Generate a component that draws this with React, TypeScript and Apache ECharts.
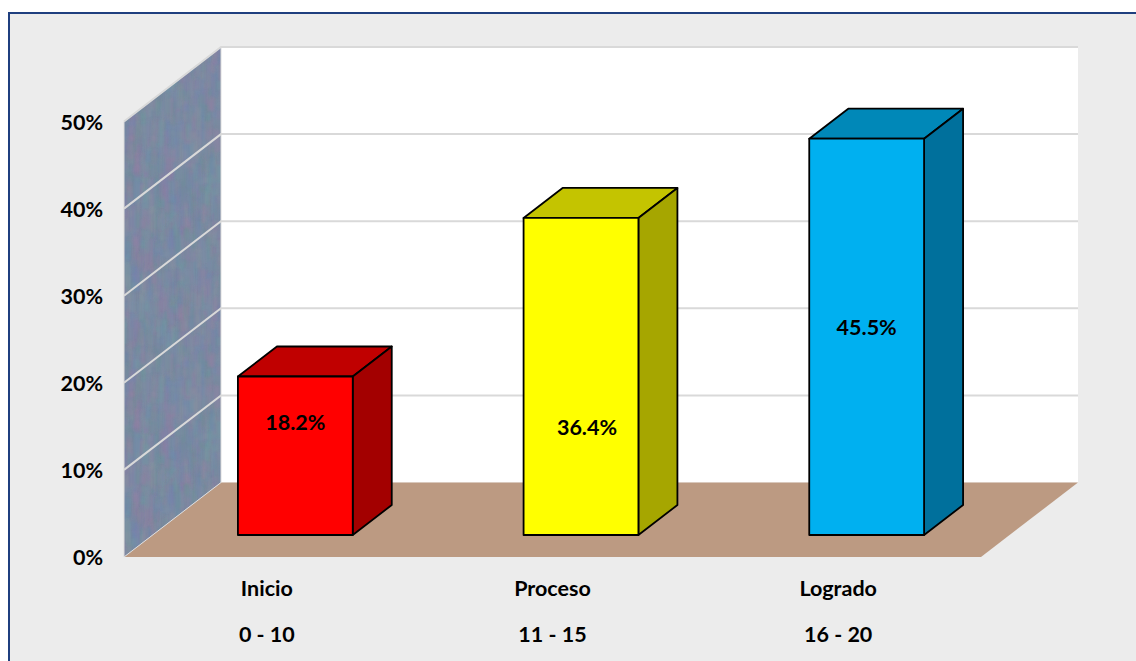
import React, { useEffect, useRef } from "react";
import * as echarts from "echarts";

const categories = ["Inicio", "Proceso", "Logrado"];
const scoreRanges = ["0 - 10", "11 - 15", "16 - 20"];
const percentages = [18.2, 36.4, 45.5];
const yTicks = [0, 10, 20, 30, 40, 50];

const FACE_COLORS = [
  { front: "#ff0000", top: "#c00000", side: "#a30000" },
  { front: "#ffff00", top: "#c4c400", side: "#a6a600" },
  { front: "#00b0f0", top: "#0088b8", side: "#00709c" },
];
// Label nudges from the centre of each bar's front face, in pixels.
const LABEL_NUDGE = [
  { dx: 0, dy: -34 },
  { dx: 6, dy: 51 },
  { dx: 0, dy: -10 },
];

const WALL_DX = 97;
const WALL_DY = -74.5;
const BAR_SHIFT_X = 28.5;
const BAR_SHIFT_Y = -22;
const BAR_DEPTH_X = 39;
const BAR_DEPTH_Y = -30;
const BAR_RATIO = 0.402;
const GRID_LINE = "#d9d9d9";
const FONT_FAMILY = 'Lato, "Noto Sans", sans-serif';
const FONT_SIZE = 21.5;
const FONT = `bold ${FONT_SIZE}px ${FONT_FAMILY}`;

// Mottled blue-grey fabric used on the side wall.
function makeWallTexture(): HTMLCanvasElement {
  const size = 256;
  const canvas = document.createElement("canvas");
  canvas.width = size;
  canvas.height = size;
  const ctx = canvas.getContext("2d")!;
  ctx.fillStyle = "#7b8ca4";
  ctx.fillRect(0, 0, size, size);
  let seed = 20117;
  const next = () => {
    seed = (seed * 1103515245 + 12345) & 0x7fffffff;
    return seed / 0x7fffffff;
  };
  const tints = ["#8f7fa6", "#6f9aa3", "#7086b0", "#8c94a0", "#6e8f98", "#9482a2"];
  ctx.filter = "blur(1.2px)";
  for (let i = 0; i < 2600; i++) {
    const x = next() * size;
    const y = next() * size;
    const w = 2 + next() * 5;
    const h = 6 + next() * 22;
    ctx.globalAlpha = 0.12 + next() * 0.26;
    ctx.fillStyle = tints[Math.floor(next() * tints.length)];
    for (const ox of [0, -size]) {
      for (const oy of [0, -size]) {
        ctx.fillRect(x + ox, y + oy, w, h);
      }
    }
  }
  return canvas;
}

export default function App() {
  const ref = useRef<HTMLDivElement>(null);

  useEffect(() => {
    const chart = echarts.init(ref.current!, undefined, { renderer: "svg" });
    const texture = makeWallTexture();

    const renderRoom = (params: any) => {
      const { x, y, width, height } = params.coordSys;
      const x0 = x;
      const x1 = x + width;
      const yTop = y;
      const yBase = y + height;
      const poly = (points: number[][], style: any) => ({ type: "polygon", shape: { points }, style });
      return {
        type: "group",
        children: [
          poly(
            [
              [x0 + WALL_DX, yTop + WALL_DY],
              [x1 + WALL_DX, yTop + WALL_DY],
              [x1 + WALL_DX, yBase + WALL_DY],
              [x0 + WALL_DX, yBase + WALL_DY],
            ],
            { fill: "#ffffff" },
          ),
          poly(
            [
              [x0, yBase],
              [x0 + WALL_DX, yBase + WALL_DY],
              [x1 + WALL_DX, yBase + WALL_DY],
              [x1, yBase],
            ],
            { fill: "#bc9a82" },
          ),
          poly(
            [
              [x0, yTop],
              [x0 + WALL_DX, yTop + WALL_DY],
              [x0 + WALL_DX, yBase + WALL_DY],
              [x0, yBase],
            ],
            {
              fill: { image: texture, repeat: "repeat", imageWidth: 256, imageHeight: 256 },
              stroke: "#dddddd",
              lineWidth: 1,
            },
          ),
        ],
      };
    };

    const renderGridLine = (params: any, api: any) => {
      const value = api.value(0);
      const { x, width } = params.coordSys;
      const y = api.coord([0, value])[1];
      if (value === 0) return { type: "group", children: [] };
      return {
        type: "polyline",
        shape: {
          points: [
            [x, y],
            [x + WALL_DX, y + WALL_DY],
            [x + width + WALL_DX, y + WALL_DY],
          ],
        },
        style: { stroke: GRID_LINE, lineWidth: 2, fill: "none" },
      };
    };

    const renderBar = (params: any, api: any) => {
      const index = api.value(0);
      const value = api.value(1);
      const [cx, yTop] = api.coord([index, value]);
      const [, yZero] = api.coord([index, 0]);
      const width = api.size([1, 0])[0] * BAR_RATIO;
      const l = cx + BAR_SHIFT_X - width / 2;
      const r = l + width;
      const t = yTop + BAR_SHIFT_Y;
      const b = yZero + BAR_SHIFT_Y;
      const face = FACE_COLORS[index];
      const nudge = LABEL_NUDGE[index];
      const edge = { stroke: "#000000", lineWidth: 1.8, lineJoin: "round" };
      const poly = (points: number[][], fill: string) => ({
        type: "polygon",
        shape: { points },
        style: { fill, ...edge },
      });
      return {
        type: "group",
        children: [
          poly(
            [
              [l, t],
              [l + BAR_DEPTH_X, t + BAR_DEPTH_Y],
              [r + BAR_DEPTH_X, t + BAR_DEPTH_Y],
              [r, t],
            ],
            face.top,
          ),
          poly(
            [
              [r, t],
              [r + BAR_DEPTH_X, t + BAR_DEPTH_Y],
              [r + BAR_DEPTH_X, b + BAR_DEPTH_Y],
              [r, b],
            ],
            face.side,
          ),
          poly(
            [
              [l, t],
              [r, t],
              [r, b],
              [l, b],
            ],
            face.front,
          ),
          {
            type: "text",
            style: {
              text: `${value.toFixed(1)}%`,
              x: (l + r) / 2 + nudge.dx,
              y: (t + b) / 2 + nudge.dy,
              align: "center",
              verticalAlign: "middle",
              font: FONT,
              fill: "#000000",
            },
          },
        ],
      };
    };

    chart.setOption({
      animation: false,
      backgroundColor: "#ffffff",
      graphic: [
        {
          type: "rect",
          z: -10,
          silent: true,
          shape: { x: 9, y: 13, width: 1140, height: 660 },
          style: { fill: "#ececec", stroke: "#1f3f7f", lineWidth: 2 },
        },
      ],
      grid: { left: 124, right: 155, top: 121.5, bottom: 104 },
      xAxis: {
        type: "category",
        data: categories,
        axisLine: { show: false },
        axisTick: { show: false },
        axisLabel: {
          margin: 8,
          lineHeight: 46,
          color: "#000000",
          fontFamily: FONT_FAMILY,
          fontWeight: "bold",
          fontSize: FONT_SIZE,
          formatter: (name: string) => `${name}\n${scoreRanges[categories.indexOf(name)]}`,
        },
      },
      yAxis: {
        type: "value",
        min: 0,
        max: 50,
        interval: 10,
        axisLine: { show: false },
        axisTick: { show: false },
        splitLine: { show: false },
        axisLabel: {
          margin: 21,
          padding: [2, 0, 0, 0],
          color: "#000000",
          fontFamily: FONT_FAMILY,
          fontWeight: "bold",
          fontSize: FONT_SIZE,
          formatter: "{value}%",
        },
      },
      series: [
        { type: "custom", clip: false, z: 1, silent: true, data: [[0]], renderItem: renderRoom },
        {
          type: "custom",
          clip: false,
          z: 2,
          silent: true,
          encode: { y: 0 },
          data: yTicks.map((t) => [t]),
          renderItem: renderGridLine,
        },
        {
          type: "custom",
          clip: false,
          z: 3,
          silent: true,
          encode: { x: 0, y: 1 },
          data: percentages.map((v, i) => [i, v]),
          renderItem: renderBar,
        },
      ],
    });
    return () => chart.dispose();
  }, []);

  return <div ref={ref} style={{ position: "fixed", left: 0, top: 0, width: 1136, height: 661 }} />;
}
